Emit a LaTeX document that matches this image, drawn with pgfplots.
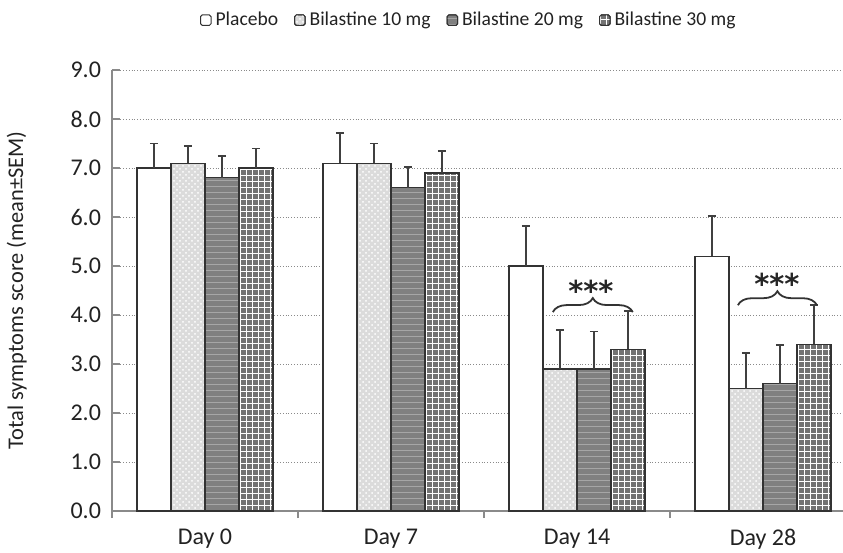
\documentclass[border=0pt]{standalone}
\usepackage{fontspec}
\setmainfont{Carlito}
\newfontfamily\symf{DejaVu Sans}
\usepackage{pgfplots}
\usepackage{pgfplotstable}
\pgfplotsset{compat=1.18}
\usetikzlibrary{patterns,decorations.pathreplacing}

\definecolor{txt}{HTML}{222222}
\definecolor{axc}{HTML}{8A8A8A}

% columns: group position, mean, SEM
\pgfplotstableread{
x y e
0 7.0 0.50
1 7.1 0.62
2 5.0 0.82
3 5.2 0.82
}\placebo
\pgfplotstableread{
x y e
0 7.1 0.35
1 7.1 0.40
2 2.9 0.80
3 2.5 0.72
}\bilten
\pgfplotstableread{
x y e
0 6.8 0.44
1 6.6 0.42
2 2.9 0.76
3 2.6 0.79
}\biltwenty
\pgfplotstableread{
x y e
0 7.0 0.40
1 6.9 0.45
2 3.3 0.78
3 3.4 0.80
}\bilthirty

\begin{document}
\begin{tikzpicture}
\begin{axis}[
  at={(0,0)}, anchor=south west,
  width=372pt, height=220.5pt, scale only axis,
  xmin=-0.5, xmax=3.5, ymin=0, ymax=9,
  ytick={0,1,...,9},
  yticklabel style={/pgf/number format/.cd, fixed, fixed zerofill, precision=1},
  /pgf/number format/assume math mode=true,
  xtick={0,1,2,3},
  xticklabels={Day 0, Day 7, Day 14, Day 28},
  minor xtick={-0.5,0.5,1.5,2.5,3.5},
  major x tick style={draw=none},
  minor x tick style={axc, line width=0.6pt},
  major y tick style={axc, line width=0.6pt, xshift=2pt},
  tick align=outside, major tick length=4pt, minor tick length=3.5pt,
  axis lines=left, axis line style={-, axc, line width=0.7pt},
  ymajorgrids, major grid style={densely dotted, axc, line width=0.5pt},
  ybar=0pt, bar width=17pt,
  tick label style={font=\fontsize{12}{14}\selectfont, text=txt},
  xticklabel style={yshift=-1.5pt},
  ylabel={Total symptoms score (mean±SEM)},
  ylabel style={at={(axis description cs:-0.128,0.5)}, anchor=center,
    font=\fontsize{11.2}{13}\selectfont, text=txt},
  legend columns=4,
  legend style={draw=none, fill=none, at={(axis description cs:0.481,1.113)},
    anchor=center, font=\fontsize{9.8}{11}\selectfont, text=txt,
    /tikz/every even column/.append style={column sep=6pt},
    /tikz/every odd column/.append style={column sep=0pt}},
  legend image code/.code={\draw[#1, rounded corners=0.8pt, line width=0.5pt]
    (0pt,-2.6pt) rectangle (5.2pt,2.6pt);},
  error bars/y dir=plus, error bars/y explicit,
  error bars/error bar style={black!75, line width=0.6pt},
  error bars/error mark options={rotate=90, black!75, mark size=2pt, line width=0.8pt},
]
\addplot[draw=black!80, fill=white, line width=0.6pt]
  table[x=x, y=y, y error=e]{\placebo};
\addplot[draw=black!80, fill=black!14, line width=0.6pt,
  postaction={pattern=crosshatch dots, pattern color=white}]
  table[x=x, y=y, y error=e]{\bilten};
\addplot[draw=black!80, fill=black!50, line width=0.6pt,
  postaction={pattern=horizontal lines, pattern color=black!35}]
  table[x=x, y=y, y error=e]{\biltwenty};
\addplot[draw=black!80, fill=black!55, line width=0.6pt,
  postaction={pattern=grid, pattern color=white}]
  table[x=x, y=y, y error=e]{\bilthirty};
\legend{Placebo, Bilastine 10 mg, Bilastine 20 mg, Bilastine 30 mg}

\draw[decorate, decoration={brace, amplitude=7pt}, black!80, line width=0.9pt]
  (axis cs:1.87,4.06) -- (axis cs:2.30,4.06);
\node[font=\symf\Large\bfseries, text=black!85, inner sep=0pt] at (axis cs:2.075,4.50) {***};
\draw[decorate, decoration={brace, amplitude=7pt}, black!80, line width=0.9pt]
  (axis cs:2.865,4.2) -- (axis cs:3.29,4.2);
\node[font=\symf\Large\bfseries, text=black!85, inner sep=0pt] at (axis cs:3.075,4.64) {***};
\end{axis}
\pgfresetboundingbox
\path (-56pt,-21pt) rectangle (365.5pt,255.5pt);
\end{tikzpicture}
\end{document}
